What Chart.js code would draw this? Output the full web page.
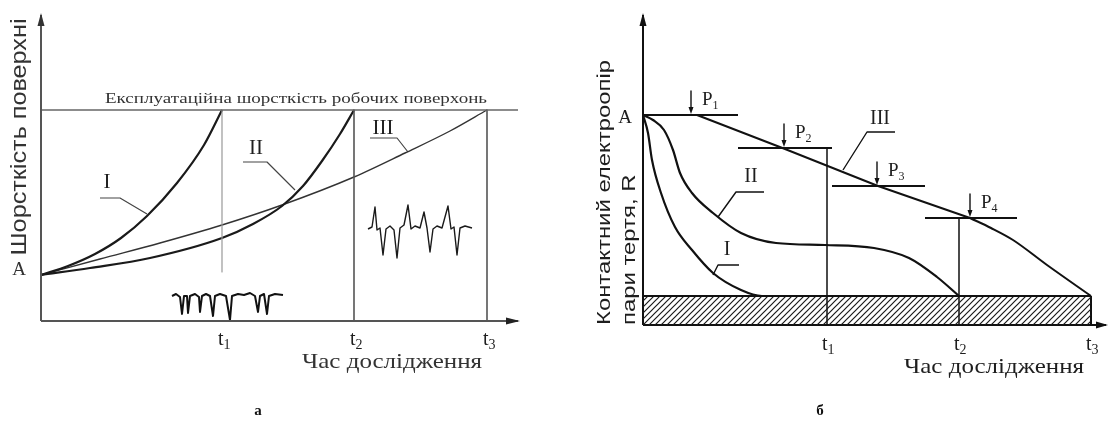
<!DOCTYPE html>
<html><head><meta charset="utf-8">
<script src="https://cdn.jsdelivr.net/npm/chart.js@4.4.0/dist/chart.umd.min.js"></script>
<style>
html,body{margin:0;padding:0;background:#fff;width:1109px;height:427px;overflow:hidden;}
#wrapA{position:absolute;left:0;top:0;width:560px;height:427px;}
#wrapB{position:absolute;left:560px;top:0;width:549px;height:427px;}
</style></head><body>
<div id="wrapA"><canvas id="chartA" width="560" height="427"></canvas></div>
<div id="wrapB"><canvas id="chartB" width="549" height="427"></canvas></div>
<script>
// ================= Panel "а": surface roughness vs time =================
const tTicksA = [181, 313, 446];           // t1, t2, t3
const tSubs = ['1', '2', '3'];
const levelA_a = 46;                         // initial roughness A
const levelOper = 211;                       // operational roughness
const axisMaxA = { x: 479, y: 308 };
const curveI_a   = [[0,46],[27,55],[54,67],[80,83],[106,105],[136,138],[163,176],[181,211]];
const curveII_a  = [[0,46],[49,53],[109,63],[181,83],[212,97],[241,115],[262,135],[281,160],[299,187],[313,211]];
const curveIII_a = [[0,46],[59,62],[119,78],[181,96],[241,116],[313,144],[364,168],[409,190],[446,211]];
const t1LineBottomA = 49;
const profileLow = [[131,25],[135,27],[139,24],[141,7],[143,25],[146,25],[147,8],[149,25],[154,27],[158,24],[159,9],[161,25],[165,27],[169,25],[172,5],[174,25],[179,27],[185,25],[189,1],[191,25],[197,27],[203,26],[209,28],[214,25],[217,9],[219,25],[223,27],[226,7],[228,25],[234,27],[242,26]];
const profileHigh = [[327,92],[331,94],[334,114],[336,91],[339,93],[342,66],[345,92],[349,95],[353,91],[356,63],[359,93],[363,96],[367,116],[370,92],[374,95],[379,93],[383,109],[386,93],[389,69],[392,92],[396,95],[401,93],[407,115],[410,92],[413,94],[416,66],[419,93],[424,95],[431,93]];
const leaderI_a   = [[59,123],[79,123],[106,107]];
const leaderII_a  = [[202,159],[226,159],[254,131]];
const leaderIII_a = [[329,183],[356,183],[367,169]];

// ================= Panel "б": contact resistance vs time =================
const tTicksB = [184, 316, 448];
const levelA_b = 210;
const bandLevel = 29;
const axisMaxB = { x: 465, y: 312 };
const curveI_b   = [[0,210],[5,192],[9,165],[18,132],[32,98],[49,75],[70,52],[98,35],[119,29],[184,29]];
const curveII_b  = [[0,210],[10,205],[21,195],[30,175],[37,152],[49,132],[70,112],[98,92],[133,82],[182,80],[231,77],[266,67],[294,48],[316,29]];
const curveIII_b_straight = [[0,210],[54,210],[142,176],[235,139],[327,107]];
const curveIII_b_tail     = [[327,107],[348,97],[370,85],[404,60],[448,29]];
const loadX      = [48, 141, 234, 327];      // P1..P4 positions
const loadLevel  = [210, 177, 139, 107];
const loadFrom   = [0, 95, 189, 282];
const loadTo     = [95, 189, 282, 374];
const t1TopB = 177, t2TopB = 107;
const leaderI_b   = [[96,60],[75,60],[70,50]];
const leaderII_b  = [[121,133],[93,133],[75,108]];
const leaderIII_b = [[252,193],[224,193],[200,155]];

const pts = a => a.map(p => ({ x: p[0], y: p[1] }));
function ds(data, color, width, smooth) {
  return { data: pts(data), borderColor: color, borderWidth: width, showLine: true,
    pointRadius: 0, fill: false, clip: false, tension: 0,
    cubicInterpolationMode: smooth ? 'monotone' : 'default',
    borderCapStyle: 'butt', borderJoinStyle: 'round' };
}
function hatchPattern() {
  const c = document.createElement('canvas'); c.width = 6; c.height = 6;
  const g = c.getContext('2d');
  g.strokeStyle = '#1a1a1a'; g.lineWidth = 1.2; g.beginPath();
  g.moveTo(0, 6); g.lineTo(6, 0); g.moveTo(-1, 1); g.lineTo(1, -1); g.moveTo(5, 7); g.lineTo(7, 5);
  g.stroke();
  return g.createPattern(c, 'repeat');
}

const SERIF = '"Liberation Serif", "DejaVu Serif", serif';
const SANS = '"Liberation Sans", Arial, sans-serif';

function txt(ctx, s, x, y, font, opt) {
  opt = opt || {};
  ctx.save();
  ctx.font = font; ctx.fillStyle = opt.color || '#1e1e1e';
  ctx.textAlign = opt.align || 'center';
  ctx.textBaseline = opt.base || 'middle';
  ctx.translate(x, y);
  if (opt.rot) ctx.rotate(-Math.PI / 2);
  let sx = 1;
  if (opt.w) sx = opt.w / ctx.measureText(s).width;
  if (opt.sx) sx = opt.sx;
  ctx.scale(sx, 1);
  ctx.fillText(s, 0, 0);
  const w = ctx.measureText(s).width * sx;
  ctx.restore();
  return { w, sx };
}
function tri(ctx, pts, color) {
  ctx.save(); ctx.fillStyle = color; ctx.beginPath();
  ctx.moveTo(pts[0][0], pts[0][1]); ctx.lineTo(pts[1][0], pts[1][1]); ctx.lineTo(pts[2][0], pts[2][1]);
  ctx.closePath(); ctx.fill(); ctx.restore();
}
function subLabel(ctx, main, sub, x, y, size, subSize, drop) {
  ctx.save(); ctx.font = size + 'px ' + SERIF; ctx.fillStyle = '#1e1e1e';
  ctx.textAlign = 'left'; ctx.textBaseline = 'alphabetic';
  ctx.fillText(main, x, y);
  const w = ctx.measureText(main).width;
  ctx.font = subSize + 'px ' + SERIF; ctx.fillText(sub, x + w, y + drop);
  ctx.restore();
}

const baseOpts = (padding, maxX, maxY) => ({
  responsive: false, animation: false, events: [],
  layout: { padding },
  plugins: { legend: { display: false }, tooltip: { enabled: false } },
  scales: {
    x: { type: 'linear', display: false, min: 0, max: maxX },
    y: { type: 'linear', display: false, min: 0, max: maxY }
  }
});

// ---------- Chart а ----------
const annotA = {
  id: 'annotA',
  afterDatasetsDraw(chart) {
    const ctx = chart.ctx, X = v => chart.scales.x.getPixelForValue(v), Y = v => chart.scales.y.getPixelForValue(v);
    tri(ctx, [[X(0), Y(axisMaxA.y)], [X(0) - 3.5, Y(axisMaxA.y) + 13], [X(0) + 3.5, Y(axisMaxA.y) + 13]], '#333');
    tri(ctx, [[X(axisMaxA.x), Y(0)], [X(axisMaxA.x) - 14, Y(0) - 3.5], [X(axisMaxA.x) - 14, Y(0) + 3.5]], '#222');
    txt(ctx, 'Шорсткість поверхні', X(-21), Y(184), '22px ' + SANS, { rot: true, w: 237, color: '#333' });
    txt(ctx, 'A', X(-22), Y(51), '19px ' + SERIF, { color: '#333' });
    txt(ctx, 'Експлуатаційна шорсткість робочих поверхонь', X(255), Y(222), '15px ' + SERIF, { w: 382, color: '#333' });
    txt(ctx, 'I', X(66), Y(139), '21px ' + SERIF);
    txt(ctx, 'II', X(215), Y(173), '21px ' + SERIF);
    txt(ctx, 'III', X(342), Y(193), '21px ' + SERIF);
    tTicksA.forEach((t, i) => subLabel(ctx, 't', tSubs[i], X(t) - 4, Y(0) + 24, 20, 14, 4));
    txt(ctx, 'Час дослідження', X(351), Y(0) + 41, '21px ' + SERIF, { w: 180, color: '#333' });
    txt(ctx, 'а', X(217), Y(0) + 90, 'bold 15px ' + SERIF, { color: '#111' });
  }
};
new Chart(document.getElementById('chartA'), {
  type: 'scatter',
  data: { datasets: [
    ds([[0, 0], [axisMaxA.x - 2, 0]], '#555', 2),
    ds([[0, 0], [0, axisMaxA.y - 2]], '#555', 2),
    ds([[0, levelOper], [axisMaxA.x - 2, levelOper]], '#666', 1.5),
    ds([[tTicksA[0], levelOper], [tTicksA[0], t1LineBottomA]], '#999', 1.2),
    ds([[tTicksA[1], levelOper], [tTicksA[1], 0]], '#555', 1.6),
    ds([[tTicksA[2], levelOper], [tTicksA[2], 0]], '#555', 1.6),
    ds(curveI_a, '#1a1a1a', 2.2, true),
    ds(curveII_a, '#1a1a1a', 2.2, true),
    ds(curveIII_a, '#333', 1.4, true),
    ds(leaderI_a, '#444', 1.2),
    ds(leaderII_a, '#444', 1.2),
    ds(leaderIII_a, '#444', 1.2),
    ds(profileLow, '#111', 2),
    ds(profileHigh, '#1a1a1a', 1.4)
  ] },
  options: baseOpts({ left: 41, right: 40, top: 13, bottom: 106 }, axisMaxA.x, axisMaxA.y),
  plugins: [annotA]
});

// ---------- Chart б ----------
const annotB = {
  id: 'annotB',
  afterDatasetsDraw(chart) {
    const ctx = chart.ctx, X = v => chart.scales.x.getPixelForValue(v), Y = v => chart.scales.y.getPixelForValue(v);
    tri(ctx, [[X(0), Y(axisMaxB.y)], [X(0) - 3.5, Y(axisMaxB.y) + 13], [X(0) + 3.5, Y(axisMaxB.y) + 13]], '#111');
    tri(ctx, [[X(axisMaxB.x), Y(0)], [X(axisMaxB.x) - 12, Y(0) - 3.5], [X(axisMaxB.x) - 12, Y(0) + 3.5]], '#111');
    loadX.forEach((x, i) => {
      const yb = Y(loadLevel[i]) - 1;
      tri(ctx, [[X(x), yb], [X(x) - 2.5, yb - 7], [X(x) + 2.5, yb - 7]], '#111');
      subLabel(ctx, 'P', String(i + 1), X(x) + 11, Y(loadLevel[i]) - 10, 19, 12, 4);
    });
    const r = txt(ctx, 'Контактний електроопір', X(-38), Y(0), '19px ' + SANS, { rot: true, align: 'left', w: 265 });
    txt(ctx, 'пари тертя, R', X(-13), Y(0), '19px ' + SANS, { rot: true, align: 'left', sx: r.sx });
    txt(ctx, 'A', X(-18), Y(207), '19px ' + SERIF);
    txt(ctx, 'I', X(84), Y(75), '20px ' + SERIF);
    txt(ctx, 'II', X(108), Y(148), '20px ' + SERIF);
    txt(ctx, 'III', X(237), Y(206), '20px ' + SERIF);
    tTicksB.forEach((t, i) => subLabel(ctx, 't', tSubs[i], X(t) - 5, Y(0) + 25, 20, 14, 4));
    txt(ctx, 'Час дослідження', X(351), Y(0) + 42, '21px ' + SERIF, { w: 180 });
    txt(ctx, 'б', X(177), Y(0) + 86, 'bold 15px ' + SERIF, { color: '#111' });
  }
};
const bandDs = ds([[0, bandLevel], [tTicksB[2], bandLevel]], '#111', 2);
bandDs.fill = 'origin';
bandDs.backgroundColor = hatchPattern();
const loadLines = loadX.map((x, i) => ds([[loadFrom[i], loadLevel[i]], [loadTo[i], loadLevel[i]]], '#111', 2));
const loadArrows = loadX.map((x, i) => ds([[x, loadLevel[i] + 24], [x, loadLevel[i] + 5]], '#111', 1.4));
new Chart(document.getElementById('chartB'), {
  type: 'scatter',
  data: { datasets: [
    bandDs,
    ds([[tTicksB[2], 0], [tTicksB[2], bandLevel]], '#111', 2),
    ds([[0, 0], [axisMaxB.x - 2, 0]], '#111', 2),
    ds([[0, 0], [0, axisMaxB.y - 2]], '#111', 2),
    ds([[tTicksB[0], t1TopB], [tTicksB[0], 0]], '#111', 1.5),
    ds([[tTicksB[1], t2TopB], [tTicksB[1], 0]], '#111', 1.5),
    ...loadLines,
    ...loadArrows,
    ds(curveIII_b_straight, '#111', 2),
    ds(curveIII_b_tail, '#111', 2, true),
    ds(curveII_b, '#111', 2.2, true),
    ds(curveI_b, '#111', 2.2, true),
    ds(leaderI_b, '#111', 1.4),
    ds(leaderII_b, '#111', 1.4),
    ds(leaderIII_b, '#111', 1.4)
  ] },
  options: baseOpts({ left: 83, right: 1, top: 13, bottom: 102 }, axisMaxB.x, axisMaxB.y),
  plugins: [annotB]
});
</script>
</body></html>
